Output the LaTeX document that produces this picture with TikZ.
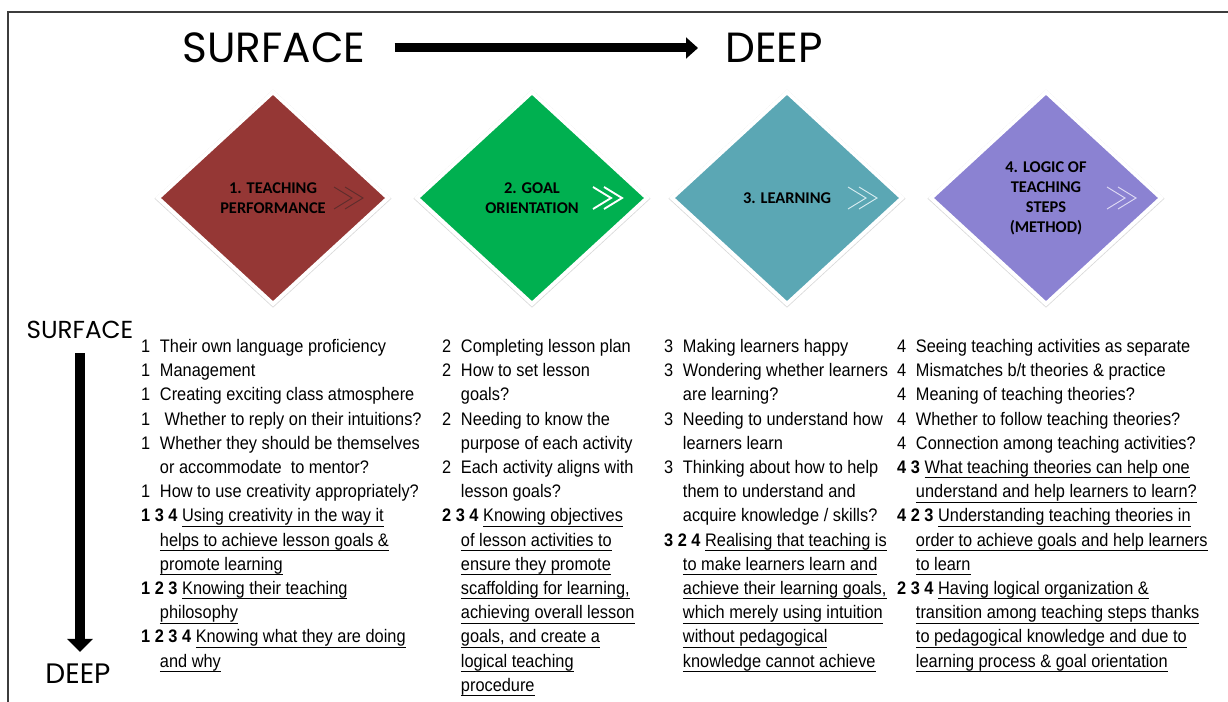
\documentclass[tikz,border=0pt]{standalone}
\usepackage{fontspec}
\setmainfont[FakeStretch=0.9]{Liberation Sans}
\newfontfamily\dfont{Carlito}
\newfontfamily\hfont{Poppins}
\usetikzlibrary{shapes.geometric,arrows.meta,shadows}

\definecolor{tpred}{RGB}{149,55,53}
\definecolor{tpgreen}{RGB}{0,176,80}
\definecolor{tpteal}{RGB}{91,167,180}
\definecolor{tppurple}{RGB}{139,130,210}
\definecolor{chevdark}{RGB}{95,45,44}
\definecolor{chevteal}{RGB}{215,236,240}
\definecolor{chevpurple}{RGB}{222,218,244}
\definecolor{framegray}{RGB}{60,60,60}

\newlength\numw
\setlength\numw{16pt}
\newsavebox\ulbox
\newcommand{\nr}[1]{\makebox[\numw][l]{#1}}
\newcommand{\ind}{\hspace*{\numw}}
\newcommand{\uln}[1]{\sbox\ulbox{#1}\rlap{\rule[-4.3pt]{\wd\ulbox}{0.9pt}}\usebox\ulbox}

\begin{document}
\begin{tikzpicture}
  [x=0.03cm,y=-0.03cm,
   dia/.style={diamond,draw=white,line width=3.4pt,minimum width=6.95cm,minimum height=6.4cm,
     inner sep=0pt,drop shadow={opacity=0.3,shadow scale=1.03,shadow xshift=0pt,shadow yshift=-0.5pt}},
   dlabel/.style={font=\dfont\bfseries\fontsize{14}{17}\selectfont,align=center,inner sep=0pt},
   col/.style={anchor=north west,align=left,inner sep=0pt,font=\fontsize{15.5}{20.66}\selectfont},
   head/.style={font=\hfont\fontsize{36}{36}\selectfont,inner sep=0pt},
   side/.style={font=\hfont\fontsize{21}{21}\selectfont,inner sep=0pt},
   toparrow/.style={line width=0.27cm,-{Triangle[length=0.36cm,width=0.62cm]},shorten <=0.87cm,shorten >=0.81cm},
   downarrow/.style={line width=0.3cm,-{Triangle[length=0.39cm,width=0.75cm]},shorten <=0.42cm,shorten >=0.36cm}]
  \useasboundingbox (0,0) rectangle (1228,702);
  \draw[framegray,line width=0.06cm] (1228,12) -- (8,12) -- (8,702);

  % title
  \node[head] (ts) at (274,48) {SURFACE};
  \node[head] (td) at (774,48) {DEEP};
  \draw[toparrow] (ts) -- (td);

  % side axis
  \node[side] (ls) at (80,330) {SURFACE};
  \node[side,font=\hfont\fontsize{24}{24}\selectfont] (ld) at (78,674) {DEEP};
  \draw[downarrow] (ls.south) -- (ls.south |- ld.north);

  % diamonds
  \foreach \i/\x/\c in {1/273/tpred,2/532/tpgreen,3/787/tpteal,4/1046/tppurple}
    \node[dia,fill=\c] (d\i) at (\x,198) {};
  \foreach \n/\c/\w in {d1/chevdark/0.8pt,d2/white/1.6pt,d3/chevteal/0.8pt,d4/chevpurple/0.8pt}
    \draw[\c,line width=\w,shift={(\n.center)}] (61,-11) -- (79,0) -- (61,11) (72,-11) -- (90,0) -- (72,11);

  \node[dlabel] (l1) at (d1) {1. TEACHING\\PERFORMANCE};
  \node[dlabel] (l2) at (d2) {2. GOAL\\ORIENTATION};
  \node[dlabel] (l3) at (d3) {3. LEARNING};
  \node[dlabel] (l4) at (d4) {4. LOGIC OF\\TEACHING\\STEPS\\(METHOD)};

  % columns
  \node[col] (c1) at (141,339) {%
    \nr{1}Their own language proficiency\\
    \nr{1}Management\\
    \nr{1}Creating exciting class atmosphere\\
    \nr{1} Whether to reply on their intuitions?\\
    \nr{1}Whether they should be themselves\\
    \ind or accommodate\ \ to mentor?\\
    \nr{1}How to use creativity appropriately?\\
    \textbf{1 3 4} \uln{Using creativity in the way it}\\
    \ind\uln{helps to achieve lesson goals \&}\\
    \ind\uln{promote learning}\\
    \textbf{1 2 3} \uln{Knowing their teaching}\\
    \ind\uln{philosophy}\\
    \textbf{1 2 3 4} \uln{Knowing what they are doing}\\
    \ind\uln{and why}};
  \node[col] (c2) at (442,339) {%
    \nr{2}Completing lesson plan\\
    \nr{2}How to set lesson\\
    \ind goals?\\
    \nr{2}Needing to know the\\
    \ind purpose of each activity\\
    \nr{2}Each activity aligns with\\
    \ind lesson goals?\\
    \textbf{2 3 4} \uln{Knowing objectives}\\
    \ind\uln{of lesson activities to}\\
    \ind\uln{ensure they promote}\\
    \ind\uln{scaffolding for learning,}\\
    \ind\uln{achieving overall lesson}\\
    \ind\uln{goals, and create a}\\
    \ind\uln{logical teaching}\\
    \ind\uln{procedure}};
  \node[col] (c3) at (664,339) {%
    \nr{3}Making learners happy\\
    \nr{3}Wondering whether learners\\
    \ind are learning?\\
    \nr{3}Needing to understand how\\
    \ind learners learn\\
    \nr{3}Thinking about how to help\\
    \ind them to understand and\\
    \ind acquire knowledge / skills?\\
    \textbf{3 2 4} \uln{Realising that teaching is}\\
    \ind\uln{to make learners learn and}\\
    \ind\uln{achieve their learning goals,}\\
    \ind\uln{which merely using intuition}\\
    \ind\uln{without pedagogical}\\
    \ind\uln{knowledge cannot achieve}};
  \node[col] (c4) at (897,339) {%
    \nr{4}Seeing teaching activities as separate\\
    \nr{4}Mismatches b/t theories \& practice\\
    \nr{4}Meaning of teaching theories?\\
    \nr{4}Whether to follow teaching theories?\\
    \nr{4}Connection among teaching activities?\\
    \textbf{4 3} \uln{What teaching theories can help one}\\
    \ind\uln{understand and help learners to learn?}\\
    \textbf{4 2 3} \uln{Understanding teaching theories in}\\
    \ind\uln{order to achieve goals and help learners}\\
    \ind\uln{to learn}\\
    \textbf{2 3 4} \uln{Having logical organization \&}\\
    \ind\uln{transition among teaching steps thanks}\\
    \ind\uln{to pedagogical knowledge and due to}\\
    \ind\uln{learning process \& goal orientation}};
\end{tikzpicture}
\end{document}
